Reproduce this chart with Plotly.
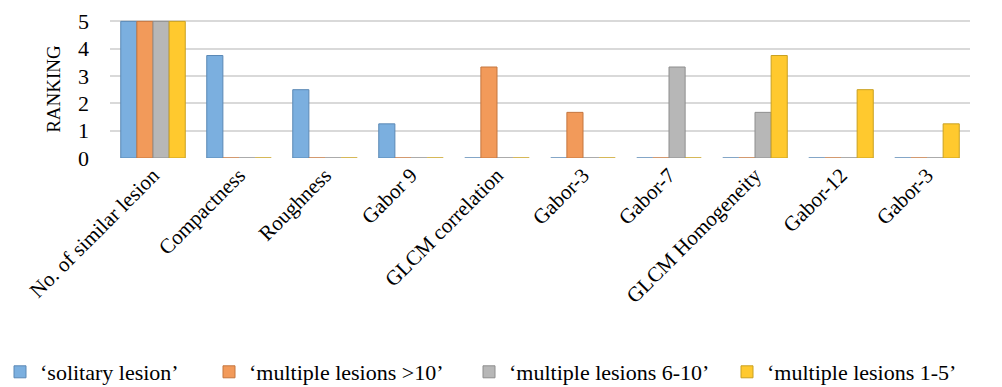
import plotly.graph_objects as go

categories = ["No. of similar lesion", "Compactness", "Roughness", "Gabor 9",
              "GLCM correlation", "Gabor-3", "Gabor-7", "GLCM Homogeneity",
              "Gabor-12", "Gabor-3"]
series_names = ["‘solitary lesion’", "‘multiple lesions >10’",
                "‘multiple lesions 6-10’", "‘multiple lesions 1-5’"]
solitary = [5, 3.75, 2.5, 1.25, 0, 0, 0, 0, 0, 0]
multi_gt10 = [5, 0, 0, 0, 3.33, 1.67, 0, 0, 0, 0]
multi_6_10 = [5, 0, 0, 0, 0, 0, 3.33, 1.67, 0, 0]
multi_1_5 = [5, 0, 0, 0, 0, 0, 0, 3.75, 2.5, 1.25]
y_ticks = [0, 1, 2, 3, 4, 5]

colors = ["#7BAFDF", "#F29A5A", "#B7B7B7", "#FFC92E"]
edge_colors = ["#5A88B5", "#C4763F", "#8E8E8E", "#C9A020"]
legend_ids = ["legend", "legend2", "legend3", "legend4"]
legend_text_x = [30, 249, 509, 767]  # pixel where each legend text starts

x_pos = list(range(len(categories)))
FONT = "Liberation Serif, Times New Roman, serif"
W, H = 1002, 387

fig = go.Figure()
for name, vals, c, ec, lid in zip(series_names,
                                  [solitary, multi_gt10, multi_6_10, multi_1_5],
                                  colors, edge_colors, legend_ids):
    fig.add_trace(go.Bar(x=x_pos, y=vals, name=name, legend=lid,
                         marker=dict(color=c, line=dict(color=ec, width=1))))

legend_layout = {}
for lid, tx in zip(legend_ids, legend_text_x):
    legend_layout[lid] = dict(
        orientation="h", x=(tx - 40) / W, xanchor="left", xref="container",
        y=1 - 372 / H, yanchor="middle", yref="container",
        font=dict(family=FONT, size=22, color="black"),
        itemwidth=30, bgcolor="rgba(0,0,0,0)")

fig.update_layout(
    width=W, height=H,
    margin=dict(l=110, r=32, t=20, b=229, autoexpand=False),
    paper_bgcolor="white", plot_bgcolor="white",
    barmode="group", bargap=0.25, bargroupgap=0,
    font=dict(family=FONT, size=17, color="black"),
    showlegend=True,
    xaxis=dict(tickmode="array", tickvals=x_pos, ticktext=categories,
               tickangle=-45, showgrid=False, showline=False, zeroline=False,
               automargin=False,
               range=[-0.5, len(categories) - 0.5],
               tickfont=dict(family=FONT, size=21, color="black")),
    yaxis=dict(range=[0, 5.05], tickmode="array", tickvals=y_ticks,
               showgrid=True, gridcolor="#D9D9D9", gridwidth=2,
               zeroline=False, showline=False, ticks="",
               ticklabelstandoff=20, automargin=False,
               tickfont=dict(family=FONT, size=22, color="black"),
               title=dict(text="RANKING", font=dict(family=FONT, size=19), standoff=12)),
    **legend_layout,
)

fig.write_html("out.html")
